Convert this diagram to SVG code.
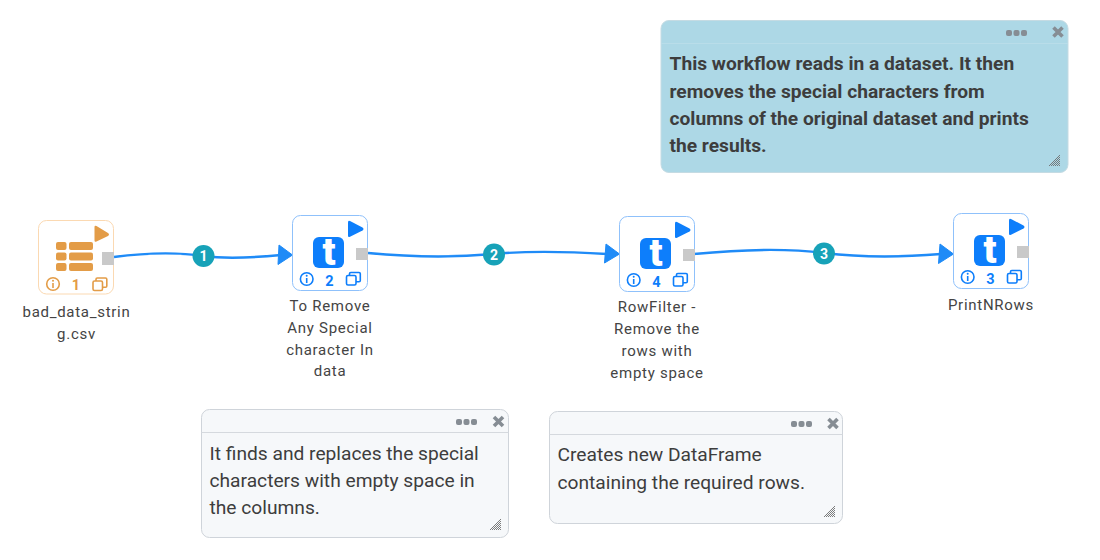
<svg xmlns="http://www.w3.org/2000/svg" width="1100" height="560" viewBox="0 0 1100 560">
<style>
text{font-family:Roboto,"Liberation Sans",sans-serif}
.lbl{font-size:15px;fill:#444;letter-spacing:.72px;text-anchor:middle}
.note{font-size:19.2px;fill:#3d3d3d}
.b{font-weight:700}
.card{fill:#f6f8fa;stroke:#cfd4da;stroke-width:1}
.sep{stroke:#d5d9de;stroke-width:1}
.dot{fill:#868d94}
.x{stroke:#868d94;stroke-width:3.6;fill:none}
.grip{stroke:#6e6e6e;stroke-width:.9;fill:none}
.wire{fill:none;stroke:#1f8bf7;stroke-width:2.4}
.arrow{fill:#1f8bf7;stroke:#1f8bf7;stroke-width:1;stroke-linejoin:round}
.badge{fill:#17a2b8}
.badgeT{font-size:14px;font-weight:700;fill:#fff;text-anchor:middle}
.t{fill:#fff;stroke:#8fc1fb;stroke-width:1}
.o{fill:#fff;stroke:#fbd9b2;stroke-width:1}
.port{fill:#c9c9c9}
.blue{fill:#0d7efb}
.bline{fill:none;stroke:#0d7efb;stroke-width:1.6}
.org{fill:#e39c47}
.oline{fill:none;stroke:#e39c47;stroke-width:1.6}
.numB{font-size:14.5px;font-weight:700;fill:#0d7efb;text-anchor:middle}
.numO{font-size:14.5px;font-weight:700;fill:#e39c47;text-anchor:middle}
</style>
<defs>
<g id="grip"><path class="grip" d="M-11 0L0-11M-9 0L0-9M-7 0L0-7M-5 0L0-5M-3 0L0-3M-1 0L0-1"/></g>
<g id="head"><rect class="dot" x="-11" y="-3" width="6" height="6" rx="2"/><rect class="dot" x="-3.500" y="-3" width="6" height="6" rx="2"/><rect class="dot" x="4" y="-3" width="6" height="6" rx="2"/></g>
<path id="close" class="x" d="M-4.500-4.500L4.500 4.500M4.500-4.500L-4.500 4.500"/>
<g id="tnode">
<rect class="t" x=".5" y=".5" width="75" height="75" rx="8"/>
<path class="blue" d="M56 7.200Q56 5 58 6L70.500 12.500Q72.500 14 70.500 15.500L58 21.800Q56 22.800 56 20.600Z"/>
<rect class="blue" x="21" y="22" width="31" height="31" rx="6"/>
<text x="37" y="50" font-size="38" font-weight="900" fill="#fff" text-anchor="middle">t</text>
<rect class="port" x="64" y="33" width="12" height="12"/>
<circle class="bline" cx="14.700" cy="64" r="6.300"/><circle class="blue" cx="14.700" cy="60.800" r="1"/><path class="bline" d="M14.700 63V68"/>
<rect class="bline" x="54.500" y="60.500" width="9.500" height="9.500" rx="1.500"/><path class="bline" d="M57.500 60.500V58.800Q57.500 57.500 58.800 57.500H67Q68.300 57.500 68.300 58.800V65.500Q68.300 66.800 67 66.800H64"/>
</g>
</defs>

<g id="connectors">
<path class="wire" d="M114 257C160 251 190 254 204 256C225 259 250 258 281 255"/>
<path class="arrow" d="M279 245L292.500 255L278 264.500Z"/>
<path class="wire" d="M368 253C410 257 450 258 494 254C535 250 575 252 607 254"/>
<path class="arrow" d="M606 244L619.500 254L604.500 263Z"/>
<path class="wire" d="M694 254C735 250 785 248 824 253C865 258 905 257 941 254"/>
<path class="arrow" d="M940 244L953.500 254L938.500 263.500Z"/>
<circle class="badge" cx="203.500" cy="256" r="11"/><text class="badgeT" x="203.500" y="261">1</text>
<circle class="badge" cx="494" cy="254.500" r="11"/><text class="badgeT" x="494" y="259.500">2</text>
<circle class="badge" cx="824" cy="253.500" r="11"/><text class="badgeT" x="824" y="258.500">3</text>
</g>

<g id="node-1">
<rect class="o" x="38.500" y="220.500" width="75" height="73.500" rx="8"/>
<path class="org" d="M94.500 227Q94.500 225 96.500 226L108 233Q110 234.500 108 236L96.500 241.500Q94.500 242.500 94.500 240.500Z"/>
<rect class="org" x="56" y="242" width="10.500" height="8" rx="2"/><rect class="org" x="69" y="242" width="24" height="8" rx="2"/>
<rect class="org" x="56" y="252.500" width="10.500" height="8" rx="2"/><rect class="org" x="69" y="252.500" width="24" height="8" rx="2"/>
<rect class="org" x="56" y="263" width="10.500" height="8" rx="2"/><rect class="org" x="69" y="263" width="24" height="8" rx="2"/>
<rect class="port" x="102" y="252" width="12" height="13"/>
<circle class="oline" cx="53" cy="284" r="6.300"/><circle class="org" cx="53" cy="280.800" r="1"/><path class="oline" d="M53 283V288"/>
<text class="numO" x="76" y="290">1</text>
<rect class="oline" x="93" y="281" width="9.500" height="9.500" rx="1.500"/><path class="oline" d="M96 281V279.300Q96 278 97.300 278H105.500Q106.800 278 106.800 279.300V286Q106.800 287.300 105.500 287.300H102.500"/>
<text class="lbl" x="76.500" y="316.500">bad_data_strin</text>
<text class="lbl" x="76.500" y="338.500">g.csv</text>
</g>

<g id="node-2">
<use href="#tnode" x="292" y="215"/>
<text class="numB" x="329.500" y="285.500">2</text>
<text class="lbl" x="330" y="311">To Remove</text>
<text class="lbl" x="330" y="333">Any Special</text>
<text class="lbl" x="330" y="355">character In</text>
<text class="lbl" x="330" y="376">data</text>
</g>

<g id="node-4">
<use href="#tnode" x="619" y="216"/>
<text class="numB" x="656.500" y="286.500">4</text>
<text class="lbl" x="657" y="312">RowFilter -</text>
<text class="lbl" x="657" y="334">Remove the</text>
<text class="lbl" x="657" y="356">rows with</text>
<text class="lbl" x="657" y="378">empty space</text>
</g>

<g id="node-3">
<use href="#tnode" x="953" y="213"/>
<text class="numB" x="990.500" y="283.500">3</text>
<text class="lbl" x="991" y="310">PrintNRows</text>
</g>

<g id="note-top">
<rect x="661" y="20.500" width="407" height="152" rx="8" fill="#add8e6" stroke="#c5dbe3"/>
<path d="M661 43.500H1068" stroke="#b9dde9"/>
<use href="#head" x="1017" y="33"/>
<use href="#close" x="1058" y="32"/>
<use href="#grip" x="1060" y="166"/>
<text class="note b" x="669.500" y="70">This workflow reads in a dataset. It then</text>
<text class="note b" x="669.500" y="98">removes the special characters from</text>
<text class="note b" x="669.500" y="125">columns of the original dataset and prints</text>
<text class="note b" x="669.500" y="152">the results.</text>
</g>

<g id="note-left">
<rect class="card" x="201.500" y="409.500" width="307" height="128" rx="8"/>
<path class="sep" d="M201.500 432.500H508.500"/>
<use href="#head" x="467" y="422"/>
<use href="#close" x="498.500" y="421.500"/>
<use href="#grip" x="501" y="530"/>
<text class="note" x="209.500" y="460">It finds and replaces the special</text>
<text class="note" x="209.500" y="487">characters with empty space in</text>
<text class="note" x="209.500" y="514">the columns.</text>
</g>

<g id="note-right">
<rect class="card" x="549.500" y="411.500" width="293" height="112" rx="8"/>
<path class="sep" d="M549.500 434.500H842.500"/>
<use href="#head" x="802" y="424"/>
<use href="#close" x="833" y="423.500"/>
<use href="#grip" x="835" y="517"/>
<text class="note" x="557.500" y="461">Creates new DataFrame</text>
<text class="note" x="557.500" y="489">containing the required rows.</text>
</g>
</svg>
